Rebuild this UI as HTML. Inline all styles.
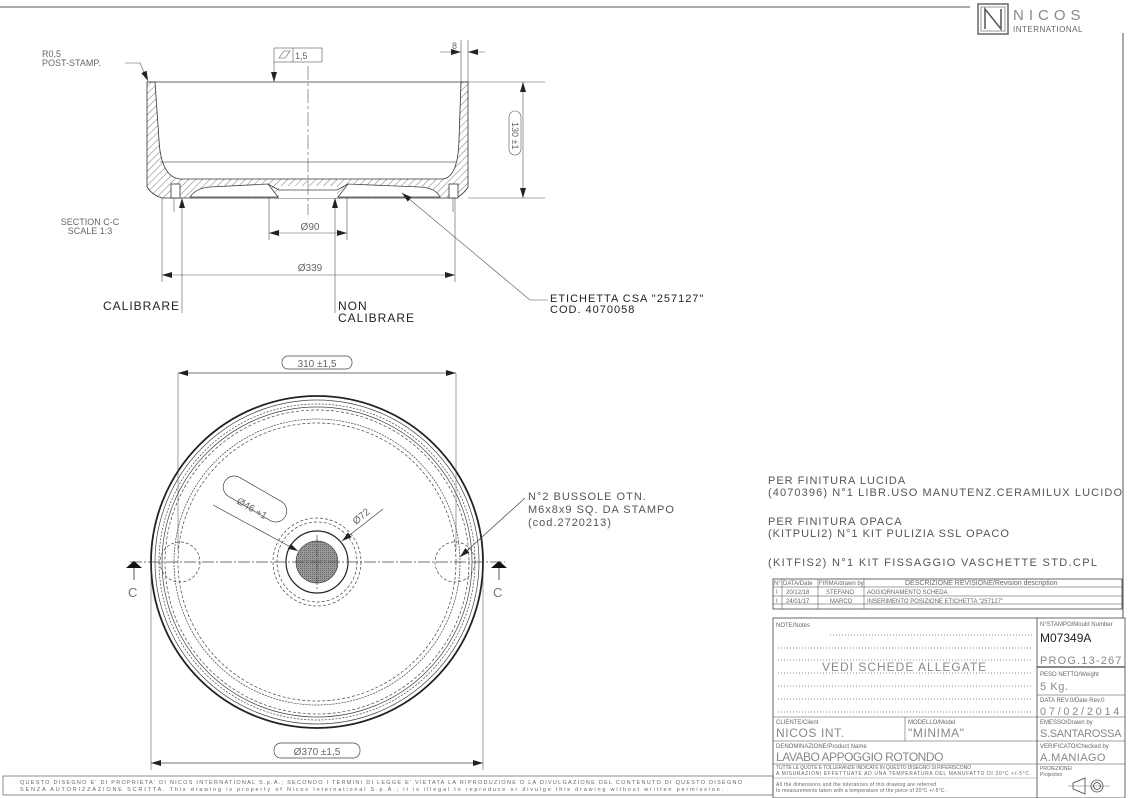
<!DOCTYPE html>
<html><head><meta charset="utf-8"><style>
html,body{margin:0;padding:0;background:#fff}
svg{display:block}
text{font-family:"Liberation Sans",sans-serif;fill:#555}
.t{font-size:11px;letter-spacing:1px}
.s{font-size:6px;fill:#666}
.m{font-size:13px;letter-spacing:1px;fill:#777}
.b{font-size:11px;fill:#888;letter-spacing:0.6px}
.k{fill:#222}
</style></head><body>
<svg width="1129" height="798" viewBox="0 0 1129 798" xmlns="http://www.w3.org/2000/svg">
<defs>
<pattern id="h" width="5" height="5" patternUnits="userSpaceOnUse" patternTransform="rotate(45)"><line x1="0" y1="0" x2="0" y2="5" stroke="#555" stroke-width="0.8"/></pattern>
<pattern id="g" width="2" height="2" patternUnits="userSpaceOnUse"><rect width="2" height="2" fill="#999"/><rect width="1" height="1" fill="#666"/></pattern>
<marker id="a" viewBox="0 0 10 6" refX="10" refY="3" markerWidth="10" markerHeight="6" orient="auto-start-reverse" markerUnits="userSpaceOnUse"><path d="M0,0L10,3L0,6z" fill="#222"/></marker>
</defs>
<!-- frame -->
<line x1="0" y1="7" x2="970" y2="7" stroke="#555" stroke-width="1"/>
<line x1="1123" y1="33" x2="1123" y2="618" stroke="#555" stroke-width="1"/>
<!-- logo -->
<rect x="978" y="4" width="30" height="30" fill="none" stroke="#666" stroke-width="1.5"/>
<rect x="981" y="7" width="24" height="24" fill="none" stroke="#999"/>
<path d="M985 29V9L1001 29V9" fill="none" stroke="#555" stroke-width="1.5"/>
<text x="1013" y="20" style="font-size:15px;letter-spacing:5px;fill:#888">NICOS</text>
<text x="1013" y="32" style="font-size:8px;fill:#666;letter-spacing:0.5px">INTERNATIONAL</text>

<!-- SECTION VIEW -->
<g stroke="#333" stroke-width="0.8" fill="none">
<line x1="147" y1="82" x2="468" y2="82"/>
<line x1="160" y1="162" x2="456" y2="162" stroke="#666"/>
<path d="M147,82 L155,82 L159,140 Q161,177 180,179 L443,179 Q458,177 459,140 L461,82 L468,82 L468,187 Q463,195 456,198 L162,198 Q152,195 147,187 Z" fill="url(#h)"/>
<path d="M190,197 Q196,188 210,187 L268,184 L278,197 Z M338,197 L348,184 L420,187 Q436,188 440,197 Z" fill="#fff" stroke="#444"/>
<rect x="279" y="186" width="58" height="12" fill="#fff" stroke="none"/>
<path d="M268,184 L279,190 L337,190 L348,184" stroke="#444"/>
<rect x="171" y="184" width="9" height="14" fill="#fff"/><rect x="449" y="184" width="9" height="14" fill="#fff"/>
</g>
<g stroke="#555" stroke-width="0.6" fill="none">
<line x1="308" y1="66" x2="308" y2="215" stroke-dasharray="14 3 3 3"/>
<line x1="468" y1="82" x2="545" y2="82"/><line x1="468" y1="198" x2="545" y2="198"/>
<line x1="523" y1="82" x2="523" y2="198" marker-start="url(#a)" marker-end="url(#a)"/>
<rect x="509" y="111" width="12" height="44" rx="6"/>
<line x1="461" y1="40" x2="461" y2="82"/><line x1="468" y1="40" x2="468" y2="82"/>
<line x1="440" y1="52" x2="461" y2="52" marker-end="url(#a)"/><line x1="485" y1="52" x2="468" y2="52" marker-end="url(#a)"/>
<rect x="274" y="48" width="48" height="14"/><line x1="293" y1="48" x2="293" y2="62"/>
<path d="M279,58 L284,51 L290,51 L285,58Z"/>
<line x1="274" y1="62" x2="274" y2="82" marker-end="url(#a)"/>
<line x1="269" y1="198" x2="269" y2="240"/><line x1="347" y1="198" x2="347" y2="240"/>
<line x1="269" y1="233" x2="347" y2="233" marker-start="url(#a)" marker-end="url(#a)"/>
<line x1="162" y1="198" x2="162" y2="282"/><line x1="455" y1="198" x2="455" y2="282"/>
<line x1="162" y1="275" x2="455" y2="275" marker-start="url(#a)" marker-end="url(#a)"/>
<line x1="182" y1="313" x2="182" y2="198" marker-end="url(#a)"/>
<line x1="335" y1="313" x2="335" y2="198" marker-end="url(#a)"/>
<line x1="548" y1="300" x2="530" y2="300"/><line x1="530" y1="300" x2="402" y2="193" marker-end="url(#a)"/>
<path d="M125,63 L140,63 L148,81" marker-end="url(#a)"/>
<line x1="174" y1="198" x2="174" y2="212"/><line x1="453" y1="198" x2="453" y2="212"/>
</g>
<text x="42" y="57" class="s" style="font-size:9px">R0,5</text>
<text x="42" y="66" class="s" style="font-size:9px">POST-STAMP.</text>
<text x="295" y="59" class="s" style="font-size:9px">1,5</text>
<text x="452" y="49" class="s" style="font-size:9px">8</text>
<text transform="translate(512,122) rotate(90)" class="s" style="font-size:9px">130 ±1</text>
<text x="310" y="230" class="s" style="font-size:10px" text-anchor="middle">Ø90</text>
<text x="310" y="271" class="s" style="font-size:10px" text-anchor="middle">Ø339</text>
<text x="90" y="225" class="s" style="font-size:9px" text-anchor="middle">SECTION C-C</text>
<text x="90" y="234" class="s" style="font-size:9px" text-anchor="middle">SCALE 1:3</text>
<text x="103" y="310" class="t k" style="font-size:12px">CALIBRARE</text>
<text x="338" y="310" class="t k" style="font-size:12px">NON</text>
<text x="338" y="322" class="t k" style="font-size:12px">CALIBRARE</text>
<text x="550" y="302" class="t k" style="font-size:11px">ETICHETTA CSA "257127"</text>
<text x="550" y="313" class="t k" style="font-size:11px">COD. 4070058</text>

<!-- PLAN VIEW -->
<g fill="none" stroke="#444" stroke-width="0.7">
<circle cx="317" cy="562" r="166" stroke-width="1.8" stroke="#222"/>
<circle cx="317" cy="562" r="162"/>
<circle cx="317" cy="562" r="158" stroke-dasharray="2 1.5"/>
<circle cx="317" cy="562" r="155"/>
<circle cx="317" cy="562" r="152" stroke-dasharray="3 2"/>
<circle cx="317" cy="562" r="143" stroke-dasharray="2 1"/>
<circle cx="317" cy="562" r="139" stroke-dasharray="3 2"/>
<circle cx="317" cy="562" r="44" stroke-dasharray="3 2"/>
<circle cx="317" cy="562" r="40" stroke-dasharray="3 2"/>
<circle cx="317" cy="562" r="31" stroke-width="1.2" stroke="#222"/>
<circle cx="317" cy="562" r="21" fill="url(#g)"/>
<circle cx="180" cy="562" r="20" stroke-dasharray="3 2"/>
<circle cx="455" cy="562" r="20" stroke-dasharray="3 2"/>
<line x1="130" y1="562" x2="505" y2="562" stroke-dasharray="12 2 2 2"/>
<line x1="317" y1="535" x2="317" y2="590" stroke-dasharray="8 2 2 2"/>
<line x1="178" y1="373" x2="178" y2="550" stroke-width="0.5"/><line x1="456" y1="373" x2="456" y2="550" stroke-width="0.5"/>
<line x1="178" y1="373" x2="456" y2="373" marker-start="url(#a)" marker-end="url(#a)"/>
<rect x="282" y="356" width="70" height="13" rx="6"/>
<line x1="151" y1="562" x2="151" y2="770" stroke-width="0.5"/><line x1="483" y1="562" x2="483" y2="770" stroke-width="0.5"/>
<line x1="151" y1="763" x2="483" y2="763" marker-start="url(#a)" marker-end="url(#a)"/>
<rect x="274" y="743" width="86" height="15" rx="7"/>
<line x1="213" y1="505" x2="298" y2="551" marker-end="url(#a)"/>
<line x1="383" y1="509" x2="342" y2="541" marker-end="url(#a)"/>
<line x1="525" y1="498" x2="460" y2="557" marker-end="url(#a)"/>
<rect x="220" y="488" width="70" height="22" rx="11" transform="rotate(30 255 499)"/>
</g>
<path d="M126,568 L142,568 L134,561Z" fill="#111"/><line x1="134" y1="568" x2="134" y2="580" stroke="#555"/>
<path d="M491,568 L507,568 L499,561Z" fill="#111"/><line x1="499" y1="568" x2="499" y2="580" stroke="#555"/>
<text x="128" y="597" class="m">C</text><text x="493" y="597" class="m">C</text>
<text x="317" y="367" class="s" style="font-size:10px" text-anchor="middle">310 ±1,5</text>
<text x="317" y="755" class="s" style="font-size:10px" text-anchor="middle">Ø370 ±1,5</text>
<text transform="translate(236,503) rotate(30)" class="s" style="font-size:10px">Ø46 +1</text>
<text transform="translate(356,525) rotate(-40)" class="s" style="font-size:10px">Ø72</text>
<text x="528" y="500" class="t">N°2 BUSSOLE OTN.</text>
<text x="528" y="513" class="t">M6x8x9 SQ. DA STAMPO</text>
<text x="528" y="526" class="t">(cod.2720213)</text>

<!-- right notes -->
<text x="768" y="484" class="t">PER FINITURA LUCIDA</text>
<text x="768" y="496" class="t" textLength="355">(4070396) N°1 LIBR.USO MANUTENZ.CERAMILUX LUCIDO</text>
<text x="768" y="525" class="t">PER FINITURA OPACA</text>
<text x="768" y="537" class="t">(KITPULI2) N°1 KIT PULIZIA SSL OPACO</text>
<text x="768" y="566" class="t" textLength="330">(KITFIS2) N°1 KIT FISSAGGIO VASCHETTE STD.CPL</text>

<!-- revision table -->
<g stroke="#444" stroke-width="0.8" fill="none">
<rect x="773" y="579" width="349" height="30"/>
<line x1="773" y1="587" x2="1122" y2="587" stroke-width="0.5"/>
<line x1="773" y1="596" x2="1122" y2="596" stroke-width="0.5"/>
<line x1="773" y1="604" x2="1122" y2="604" stroke-width="0.5"/>
<line x1="782" y1="579" x2="782" y2="609" stroke-width="0.5"/>
<line x1="818" y1="579" x2="818" y2="609" stroke-width="0.5"/>
<line x1="864" y1="579" x2="864" y2="609" stroke-width="0.5"/>
</g>
<text x="774" y="585" class="s">N°</text><text x="783" y="585" class="s">DATA/Date</text><text x="819" y="585" class="s">FIRMA/drawn by</text><text x="905" y="585" class="s" style="font-size:7px">DESCRIZIONE REVISIONE/Revision description</text>
<text x="776" y="594" class="s">I</text><text x="786" y="594" class="s">20/12/18</text><text x="826" y="594" class="s">STEFANO</text><text x="867" y="594" class="s">AGGIORNAMENTO SCHEDA</text>
<text x="776" y="603" class="s">I</text><text x="786" y="603" class="s">24/01/17</text><text x="830" y="603" class="s">MARCO</text><text x="867" y="603" class="s">INSERIMENTO POSIZIONE ETICHETTA "257127"</text>

<!-- title block -->
<g stroke="#444" stroke-width="0.8" fill="none">
<rect x="773" y="618" width="352" height="180"/>
<line x1="1037" y1="618" x2="1037" y2="798"/>
<line x1="1037" y1="667" x2="1125" y2="667" stroke-width="1.2"/>
<line x1="1037" y1="695" x2="1125" y2="695" stroke-width="0.5"/>
<line x1="773" y1="717" x2="1125" y2="717" stroke-width="0.5"/>
<line x1="773" y1="741" x2="1125" y2="741" stroke-width="0.5"/>
<line x1="773" y1="764" x2="1125" y2="764" stroke-width="0.5"/>
<line x1="905" y1="717" x2="905" y2="741" stroke-width="0.5"/>
<line x1="773" y1="778" x2="1037" y2="778" stroke-width="0.3"/>
<rect x="3" y="776" width="770" height="19" stroke-width="0.6"/>
<path d="M1073,783 L1085,778 L1085,794 L1073,789Z"/>
<line x1="1068" y1="786" x2="1110" y2="786" stroke-width="0.4"/>
<circle cx="1097" cy="786" r="6"/><circle cx="1097" cy="786" r="3.5"/>
</g>
<g stroke="#666" stroke-width="0.8" stroke-dasharray="1 2">
<line x1="830" y1="635" x2="1033" y2="635"/>
<line x1="778" y1="648" x2="1033" y2="648"/>
<line x1="778" y1="660" x2="1033" y2="660"/>
<line x1="778" y1="673" x2="1033" y2="673"/>
<line x1="778" y1="686" x2="1033" y2="686"/>
<line x1="778" y1="699" x2="1033" y2="699"/>
<line x1="778" y1="712" x2="1033" y2="712"/>
</g>
<text x="776" y="627" class="s">NOTE/Notes</text>
<text x="822" y="671" class="m" style="fill:#888;font-size:12px">VEDI SCHEDE ALLEGATE</text>
<text x="1040" y="626" class="s">N°STAMPO/Mould Number</text>
<text x="1040" y="642" style="font-size:12px;fill:#222">M07349A</text>
<text x="1040" y="664" class="b" textLength="82">PROG.13-267</text>
<text x="1040" y="676" class="s">PESO NETTO/Weight</text>
<text x="1040" y="690" class="b">5 Kg.</text>
<text x="1040" y="702" class="s">DATA REV.0/Date Rev.0</text>
<text x="1040" y="715" class="b" textLength="80">07/02/2014</text>
<text x="776" y="724" class="s">CLIENTE/Client</text>
<text x="776" y="737" class="b" style="font-size:12px">NICOS INT.</text>
<text x="908" y="724" class="s">MODELLO/Model</text>
<text x="908" y="737" class="b" style="font-size:12px">"MINIMA"</text>
<text x="1040" y="724" class="s">EMESSO/Drawn by</text>
<text x="1040" y="737" class="b" textLength="82">S.SANTAROSSA</text>
<text x="776" y="748" class="s">DENOMINAZIONE/Product Name</text>
<text x="776" y="761" class="b" style="font-size:12px" textLength="168">LAVABO APPOGGIO ROTONDO</text>
<text x="1040" y="748" class="s">VERIFICATO/Checked by</text>
<text x="1040" y="761" class="b" textLength="66">A.MANIAGO</text>
<text x="776" y="769" class="s" style="font-size:5px" textLength="195">TUTTE LE QUOTE E TOLLERANZE INDICATE IN QUESTO DISEGNO SI RIFERISCONO</text>
<text x="776" y="775" class="s" style="font-size:5px" textLength="255">A MISURAZIONI EFFETTUATE AD UNA TEMPERATURA DEL MANUFATTO DI 20°C +/-5°C.</text>
<text x="776" y="786" class="s" style="font-size:5px" textLength="160">All the dimensions and the tolerances of this drawing are referred</text>
<text x="776" y="792" class="s" style="font-size:5px" textLength="170">to measurements taken with a temperature of the piece of 20°C +/-5°C.</text>
<text x="1040" y="770" class="s" style="font-size:5px">PROIEZIONE/</text>
<text x="1040" y="776" class="s" style="font-size:5px">Projection</text>
<text x="20" y="784" class="s" style="font-size:5.5px" textLength="722">QUESTO DISEGNO E' DI PROPRIETA' DI NICOS INTERNATIONAL S.p.A.; SECONDO I TERMINI DI LEGGE E' VIETATA LA RIPRODUZIONE O LA DIVULGAZIONE DEL CONTENUTO DI QUESTO DISEGNO</text>
<text x="20" y="791" class="s" style="font-size:5.5px" textLength="703">SENZA AUTORIZZAZIONE SCRITTA. This drawing is property of Nicos International S.p.A.; it is illegal to reproduce or divulge this drawing without written permission.</text>
</svg>
</body></html>
